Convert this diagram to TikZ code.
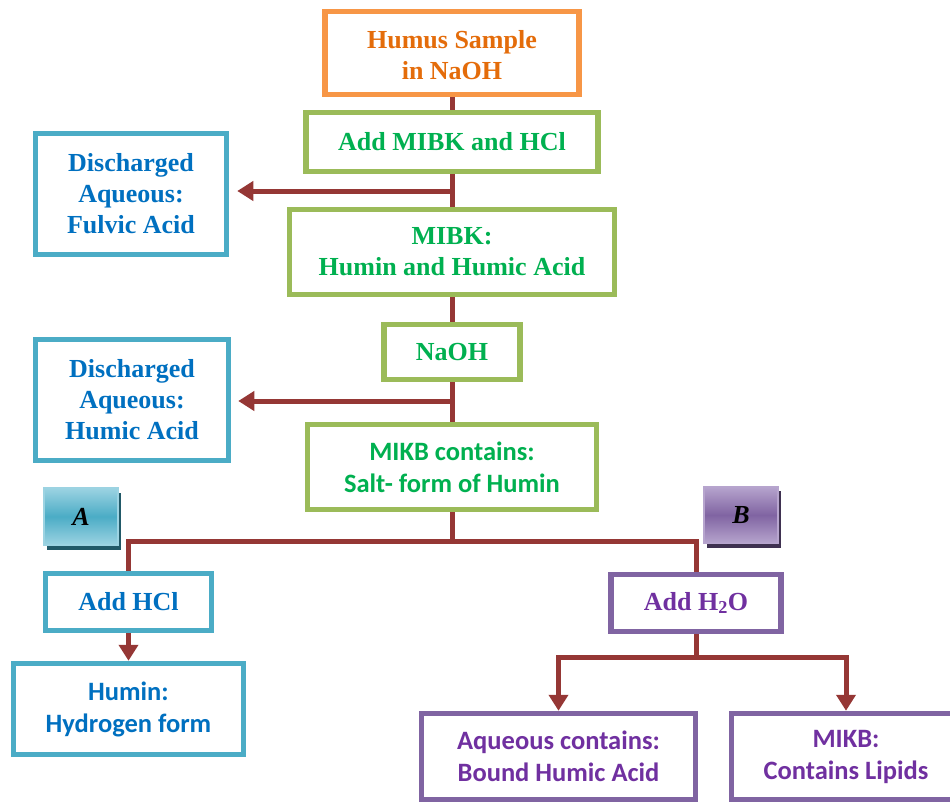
\documentclass[tikz,border=0pt]{standalone}
\usepackage{fontspec}
\setmainfont{Liberation Serif}
\newfontfamily\calfont{Carlito}
\usetikzlibrary{arrows.meta,shadows}
\definecolor{orB}{HTML}{F79646}
\definecolor{orT}{HTML}{E46C0A}
\definecolor{grB}{HTML}{9BBB59}
\definecolor{grT}{HTML}{00B050}
\definecolor{blB}{HTML}{4BACC6}
\definecolor{blT}{HTML}{0070C0}
\definecolor{puB}{HTML}{8064A2}
\definecolor{puT}{HTML}{7030A0}
\definecolor{arC}{HTML}{953735}
\definecolor{aLight}{HTML}{9CD3E2}
\definecolor{aShadow}{HTML}{215968}
\definecolor{bLight}{HTML}{B7A5CE}
\definecolor{bShadow}{HTML}{3F3151}
\tikzset{
  box/.style={draw, fill=white, line width=5.5pt, align=center, inner sep=0pt},
  serif/.style={font=\fontsize{26}{31}\selectfont\bfseries},
  sans/.style={font=\fontsize{26.5}{32}\selectfont\calfont\bfseries},
  orbox/.style={box, serif, draw=orB, text=orT},
  grbox/.style={box, serif, draw=grB, text=grT},
  grsbox/.style={box, sans, draw=grB, text=grT},
  blbox/.style={box, serif, draw=blB, text=blT},
  blsbox/.style={box, sans, draw=blB, text=blT},
  pubox/.style={box, serif, draw=puB, text=puT},
  pusbox/.style={box, sans, draw=puB, text=puT},
  tag/.style={line width=1.5pt, inner sep=0pt, text=black,
    font=\fontsize{26}{31}\selectfont\bfseries\itshape,
    minimum width=74pt, minimum height=57pt},
  conn/.style={draw=arC, line width=5pt},
  arr/.style={conn, -{Triangle[length=16pt,width=19pt]}},
}
\begin{document}
\begin{tikzpicture}[x=1pt,y=-1pt]
\useasboundingbox (0,0) rectangle (950,803);
% main column
\node[orbox, minimum width=254pt, minimum height=83pt, text height=53pt, text depth=0pt] (humus) at (452,53) {Humus Sample\\in NaOH};
\node[grbox, minimum width=292pt, minimum height=59pt] (mibkhcl) at (452,142) {Add MIBK and HCl};
\node[grbox, minimum width=325pt, minimum height=85pt] (mibk) at (452,252) {MIBK:\\Humin and Humic Acid};
\node[grbox, minimum width=136pt, minimum height=55pt] (naoh) at (452,352) {NaOH};
\node[grsbox, minimum width=289pt, minimum height=85pt] (mikb) at (452,467) {MIKB contains:\\Salt- form of Humin};
% discharged
\node[blbox, minimum width=191pt, minimum height=121pt] (fulvic) at (131,194) {Discharged\\Aqueous:\\Fulvic Acid};
\node[blbox, minimum width=193pt, minimum height=121pt] (humic) at (132,400) {Discharged\\Aqueous:\\Humic Acid};
% tags
\node[tag, draw=aLight, top color=aLight, bottom color=aLight, middle color=blB,
  general shadow={fill=aShadow, shadow xshift=2.5pt, shadow yshift=-4.5pt}] (tagA) at (81,516.5) {A};
\node[tag, draw=bLight, top color=bLight, bottom color=bLight, middle color=puB,
  general shadow={fill=bShadow, shadow xshift=2.5pt, shadow yshift=-4.5pt}] (tagB) at (741,515) {B};
% branch A
\node[blbox, minimum width=166pt, minimum height=57pt] (addhcl) at (128.5,602) {Add HCl};
\node[blsbox, minimum width=230pt, minimum height=91pt] (humin) at (128.5,709) {Humin:\\Hydrogen form};
% branch B
\node[pubox, minimum width=170pt, minimum height=57pt] (addh2o) at (696,603) {Add H\textsubscript{2}O};
\node[pusbox, minimum width=274pt, minimum height=86pt] (aqueous) at (558.5,756.5) {Aqueous contains:\\Bound Humic Acid};
\node[pusbox, minimum width=229pt, minimum height=86pt] (lipids) at (846,756.5) {MIKB:\\Contains Lipids};
% junctions
\coordinate (j1) at (452,191);
\coordinate (j2) at (452,401);
\coordinate (jAB) at (452,541);
\coordinate (jC) at (696,657);
% connectors
\draw[conn] (humus) -- (mibkhcl);
\draw[conn] (mibkhcl) -- (mibk);
\draw[conn] (mibk) -- (naoh);
\draw[conn] (naoh) -- (mikb);
\draw[arr, shorten >=8pt] (j1) -- (j1 -| fulvic.east);
\draw[arr, shorten >=7pt] (j2) -- (j2 -| humic.east);
\draw[conn] (mikb) -- (jAB);
\draw[conn] (addhcl.north) |- (jAB) -| (addh2o.north);
\draw[arr] (addhcl) -- (humin);
\draw[conn] (addh2o) -- (jC);
\draw[arr] (jC) -| (aqueous.north);
\draw[arr] (jC) -| (lipids.north);
\end{tikzpicture}
\end{document}
